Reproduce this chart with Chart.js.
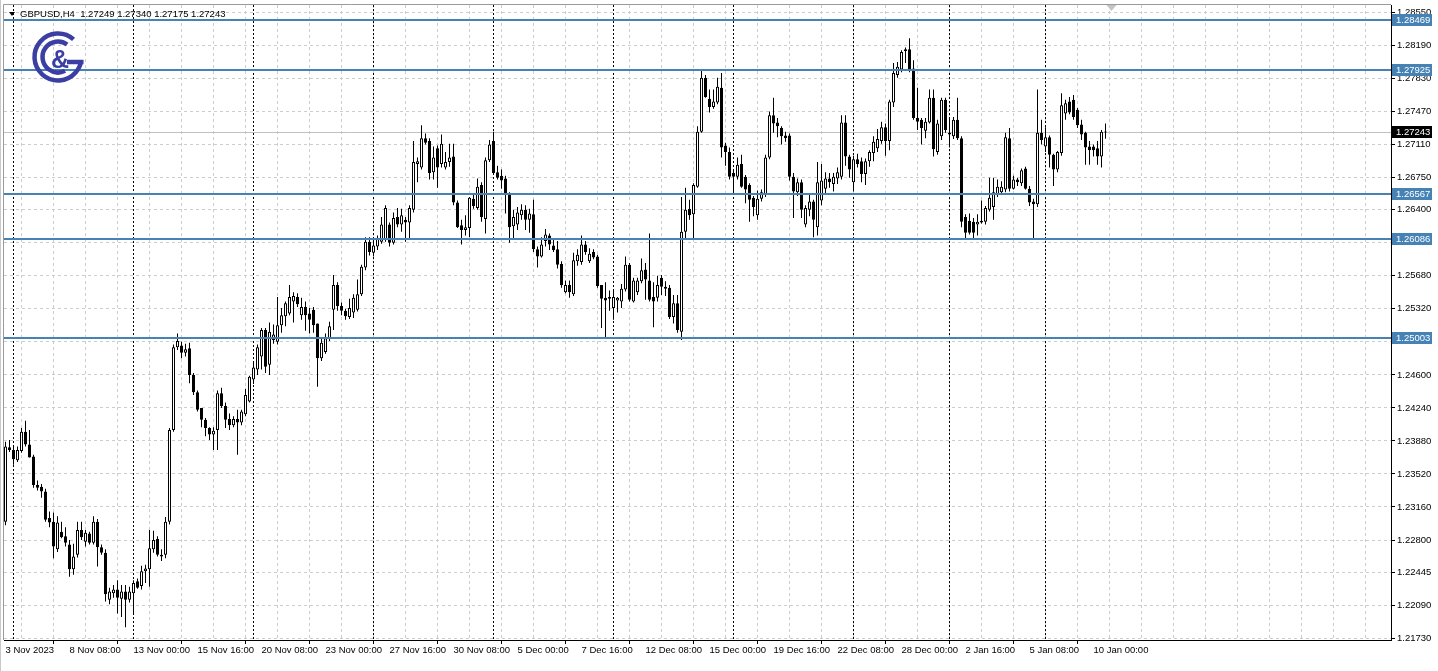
<!DOCTYPE html>
<html>
<head>
<meta charset="utf-8">
<title>GBPUSD,H4</title>
<script src="https://cdn.jsdelivr.net/npm/chart.js@4.4.1/dist/chart.umd.min.js"></script>
<style>
    html, body { margin: 0; padding: 0; background: #fff; }
    #wrap { width: 1438px; height: 671px; }
</style>
</head>
<body>
<div id="wrap"><canvas id="priceChart" width="1438" height="671"></canvas></div>
<script>
// H4 bars, 3 Nov 2023 16:00 .. 10 Jan 2024
const opens = [
    1.2300,1.2381,1.2378,1.2367,1.2377,1.2398,1.2384,1.2371,1.2340,1.2338,
    1.2333,1.2304,1.2300,1.2270,1.2289,1.2284,1.2275,1.2248,1.2264,1.2291,
    1.2278,1.2287,1.2277,1.2300,1.2272,1.2266,1.2215,1.2222,1.2226,1.2216,
    1.2224,1.2215,1.2222,1.2235,1.2230,1.2246,1.2248,1.2270,1.2281,1.2264,
    1.2264,1.2300,1.2400,1.2490,1.2492,1.2484,1.2489,1.2460,1.2441,1.2424,
    1.2411,1.2402,1.2395,1.2400,1.2440,1.2426,1.2412,1.2405,1.2412,1.2408,
    1.2417,1.2431,1.2455,1.2466,1.2480,1.2509,1.2471,1.2498,1.2496,1.2514,
    1.2524,1.2527,1.2540,1.2545,1.2525,1.2534,1.2527,1.2531,1.2516,1.2478,
    1.2485,1.2500,1.2531,1.2558,1.2535,1.2530,1.2523,1.2528,1.2531,1.2548,
    1.2577,1.2605,1.2593,1.2600,1.2605,1.2607,1.2624,1.2604,1.2632,1.2624,
    1.2629,1.2626,1.2640,1.2690,1.2686,1.2718,1.2715,1.2681,1.2707,1.2690,
    1.2686,1.2692,1.2698,1.2648,1.2623,1.2618,1.2620,1.2652,1.2642,1.2667,
    1.2630,1.2694,1.2715,1.2681,1.2677,1.2674,1.2656,1.2622,1.2624,1.2634,
    1.2640,1.2629,1.2635,1.2597,1.2589,1.2606,1.2612,1.2601,1.2597,1.2581,
    1.2550,1.2558,1.2548,1.2584,1.2583,1.2602,1.2584,1.2594,1.2589,1.2558,
    1.2544,1.2545,1.2533,1.2541,1.2540,1.2553,1.2580,1.2540,1.2550,1.2562,
    1.2575,1.2563,1.2545,1.2544,1.2566,1.2556,1.2555,1.2523,1.2538,1.2507,
    1.2616,1.2641,1.2635,1.2665,1.2725,1.2784,1.2761,1.2752,1.2757,1.2773,
    1.2710,1.2703,1.2680,1.2676,1.2690,1.2676,1.2667,1.2653,1.2634,1.2652,
    1.2657,1.2697,1.2743,1.2735,1.2729,1.2721,1.2721,1.2676,1.2659,1.2670,
    1.2624,1.2640,1.2649,1.2621,1.2650,1.2663,1.2674,1.2668,1.2674,1.2676,
    1.2735,1.2698,1.2670,1.2695,1.2693,1.2679,1.2693,1.2702,1.2707,1.2715,
    1.2730,1.2715,1.2757,1.2787,1.2793,1.2813,1.2815,1.2794,1.2740,1.2738,
    1.2726,1.2735,1.2762,1.2703,1.2720,1.2760,1.2722,1.2720,1.2738,1.2718,
    1.2632,1.2628,1.2627,1.2624,1.2626,1.2627,1.2640,1.2643,1.2656,1.2659,
    1.2662,1.2718,1.2663,1.2673,1.2669,1.2685,1.2663,1.2649,1.2646,1.2724,
    1.2709,1.2719,1.2700,1.2684,1.2702,1.2745,1.2758,1.2760,1.2749,1.2733,
    1.2724,1.2709,1.2709,1.2707,1.2698,1.27249
];
const highs = [
    1.2387,1.2389,1.2382,1.2382,1.2402,1.2410,1.2400,1.2373,1.2345,1.2341,
    1.2336,1.2311,1.2310,1.2306,1.2300,1.2294,1.2280,1.2276,1.2300,1.2300,
    1.2291,1.2289,1.2306,1.2303,1.2275,1.2270,1.2228,1.2231,1.2236,1.2231,
    1.2231,1.2229,1.2236,1.2238,1.2252,1.2253,1.2291,1.2290,1.2284,1.2270,
    1.2305,1.2402,1.2493,1.2505,1.2496,1.2494,1.2495,1.2462,1.2443,1.2424,
    1.2413,1.2403,1.2403,1.2443,1.2446,1.2430,1.2418,1.2415,1.2422,1.2422,
    1.2445,1.2459,1.2474,1.2493,1.2511,1.2511,1.2517,1.2515,1.2545,1.2533,
    1.2540,1.2558,1.2550,1.2549,1.2544,1.2540,1.2533,1.2534,1.2516,1.2500,
    1.2505,1.2518,1.2569,1.2561,1.2539,1.2532,1.2543,1.2548,1.2564,1.2580,
    1.2610,1.2610,1.2609,1.2612,1.2632,1.2645,1.2626,1.2637,1.2642,1.2641,
    1.2632,1.2645,1.2715,1.2697,1.2732,1.2723,1.2718,1.2709,1.2710,1.2722,
    1.2703,1.2712,1.2712,1.2650,1.2629,1.2634,1.2654,1.2656,1.2674,1.2670,
    1.2697,1.2716,1.2725,1.2688,1.2684,1.2677,1.2659,1.2640,1.2643,1.2646,
    1.2645,1.2641,1.2651,1.2600,1.2610,1.2619,1.2614,1.2607,1.2606,1.2584,
    1.2563,1.2563,1.2593,1.2597,1.2612,1.2606,1.2598,1.2597,1.2591,1.2558,
    1.2561,1.2552,1.2553,1.2545,1.2559,1.2589,1.2582,1.2566,1.2566,1.2587,
    1.2582,1.2614,1.2561,1.2568,1.2569,1.2562,1.2558,1.2547,1.2547,1.2654,
    1.2664,1.2651,1.2669,1.2731,1.2792,1.2787,1.2771,1.2771,1.2784,1.2789,
    1.2713,1.2708,1.2683,1.2697,1.2700,1.2678,1.2669,1.2655,1.2661,1.2662,
    1.2700,1.2747,1.2762,1.2740,1.2731,1.2725,1.2723,1.2680,1.2674,1.2673,
    1.2645,1.2657,1.2651,1.2692,1.2690,1.2681,1.2680,1.2680,1.2686,1.2743,
    1.2743,1.2700,1.2699,1.2701,1.2697,1.2696,1.2705,1.2720,1.2728,1.2736,
    1.2734,1.2760,1.2800,1.2801,1.2814,1.2817,1.2827,1.2803,1.2773,1.2740,
    1.2740,1.2771,1.2771,1.2738,1.2762,1.2762,1.2740,1.2741,1.2762,1.2720,
    1.2635,1.2636,1.2631,1.2635,1.2650,1.2644,1.2675,1.2675,1.2673,1.2671,
    1.2724,1.2729,1.2677,1.2675,1.2685,1.2687,1.2666,1.2652,1.2771,1.2738,
    1.2730,1.2721,1.2701,1.2704,1.2767,1.2760,1.2763,1.2765,1.2751,1.2738,
    1.2725,1.2715,1.2711,1.2715,1.2727,1.27340
];
const lows = [
    1.2296,1.2376,1.2362,1.2365,1.2375,1.2382,1.2370,1.2337,1.2334,1.2326,
    1.2300,1.2294,1.2260,1.2267,1.2282,1.2273,1.2240,1.2242,1.2261,1.2280,
    1.2273,1.2275,1.2275,1.2251,1.2264,1.2213,1.2210,1.2217,1.2200,1.2196,
    1.2185,1.2212,1.2200,1.2227,1.2226,1.2233,1.2229,1.2266,1.2262,1.2257,
    1.2260,1.2297,1.2398,1.2487,1.2478,1.2480,1.2451,1.2438,1.2420,1.2403,
    1.2393,1.2389,1.2378,1.2378,1.2424,1.2402,1.2400,1.2403,1.2373,1.2405,
    1.2415,1.2430,1.2450,1.2460,1.2466,1.2462,1.2460,1.2494,1.2493,1.2506,
    1.2513,1.2525,1.2517,1.2534,1.2520,1.2508,1.2505,1.2506,1.2447,1.2475,
    1.2483,1.2497,1.2509,1.2530,1.2525,1.2520,1.2521,1.2522,1.2529,1.2546,
    1.2574,1.2590,1.2589,1.2596,1.2603,1.2605,1.2600,1.2602,1.2621,1.2616,
    1.2605,1.2607,1.2637,1.2670,1.2684,1.2711,1.2673,1.2673,1.2664,1.2686,
    1.2684,1.2687,1.2645,1.2620,1.2602,1.2612,1.2610,1.2641,1.2640,1.2627,
    1.2614,1.2692,1.2680,1.2673,1.2663,1.2636,1.2604,1.2608,1.2618,1.2629,
    1.2618,1.2615,1.2594,1.2577,1.2588,1.2600,1.2596,1.2594,1.2576,1.2555,
    1.2549,1.2544,1.2546,1.2579,1.2580,1.2591,1.2582,1.2586,1.2555,1.2511,
    1.2500,1.2530,1.2520,1.2528,1.2533,1.2551,1.2540,1.2539,1.2547,1.2560,
    1.2542,1.2540,1.2512,1.2540,1.2547,1.2546,1.2521,1.2516,1.2506,1.2498,
    1.2609,1.2629,1.2609,1.2664,1.2724,1.2762,1.2746,1.2750,1.2755,1.2697,
    1.2688,1.2673,1.2657,1.2673,1.2664,1.2647,1.2627,1.2633,1.2629,1.2649,
    1.2654,1.2695,1.2724,1.2719,1.2711,1.2714,1.2672,1.2631,1.2655,1.2631,
    1.2621,1.2633,1.2610,1.2612,1.2645,1.2658,1.2664,1.2660,1.2668,1.2673,
    1.2688,1.2675,1.2660,1.2686,1.2670,1.2667,1.2687,1.2693,1.2703,1.2712,
    1.2699,1.2705,1.2752,1.2784,1.2790,1.2800,1.2790,1.2738,1.2727,1.2711,
    1.2718,1.2734,1.2698,1.2700,1.2716,1.2724,1.2708,1.2717,1.2716,1.2621,
    1.2609,1.2613,1.2609,1.2612,1.2625,1.2624,1.2638,1.2629,1.2654,1.2656,
    1.2659,1.2660,1.2662,1.2666,1.2666,1.2662,1.2644,1.2609,1.2643,1.2711,
    1.2703,1.2686,1.2666,1.2681,1.2699,1.2738,1.2744,1.2738,1.2729,1.2716,
    1.2689,1.2689,1.2698,1.2689,1.2686,1.27175
];
const closes = [
    1.2382,1.2378,1.2368,1.2378,1.2398,1.2384,1.2370,1.2340,1.2337,1.2333,
    1.2302,1.2299,1.2273,1.2299,1.2283,1.2277,1.2248,1.2262,1.2291,1.2283,
    1.2288,1.2277,1.2300,1.2272,1.2266,1.2221,1.2224,1.2226,1.2217,1.2224,
    1.2215,1.2224,1.2233,1.2228,1.2246,1.2249,1.2271,1.2280,1.2264,1.2262,
    1.2300,1.2400,1.2490,1.2497,1.2484,1.2488,1.2460,1.2441,1.2422,1.2411,
    1.2402,1.2395,1.2399,1.2440,1.2426,1.2411,1.2405,1.2412,1.2408,1.2420,
    1.2438,1.2458,1.2468,1.2490,1.2509,1.2469,1.2507,1.2504,1.2514,1.2525,
    1.2538,1.2545,1.2546,1.2537,1.2534,1.2525,1.2520,1.2514,1.2478,1.2495,
    1.2500,1.2513,1.2558,1.2535,1.2530,1.2524,1.2533,1.2544,1.2548,1.2578,
    1.2605,1.2594,1.2601,1.2609,1.2624,1.2642,1.2604,1.2631,1.2624,1.2634,
    1.2626,1.2642,1.2692,1.2693,1.2718,1.2713,1.2680,1.2697,1.2686,1.2712,
    1.2692,1.2697,1.2648,1.2621,1.2618,1.2621,1.2653,1.2644,1.2665,1.2632,
    1.2694,1.2711,1.2680,1.2675,1.2672,1.2656,1.2621,1.2632,1.2637,1.2640,
    1.2629,1.2636,1.2597,1.2589,1.2602,1.2613,1.2602,1.2596,1.2580,1.2558,
    1.2558,1.2550,1.2585,1.2591,1.2602,1.2594,1.2592,1.2588,1.2557,1.2543,
    1.2541,1.2543,1.2545,1.2544,1.2554,1.2580,1.2542,1.2563,1.2563,1.2574,
    1.2564,1.2542,1.2540,1.2558,1.2556,1.2554,1.2523,1.2538,1.2509,1.2616,
    1.2640,1.2634,1.2667,1.2725,1.2784,1.2763,1.2752,1.2758,1.2774,1.2708,
    1.2703,1.2676,1.2676,1.2689,1.2665,1.2662,1.2651,1.2643,1.2652,1.2659,
    1.2697,1.2743,1.2734,1.2731,1.2720,1.2718,1.2676,1.2660,1.2670,1.2640,
    1.2642,1.2649,1.2629,1.2670,1.2672,1.2674,1.2670,1.2676,1.2681,1.2735,
    1.2698,1.2684,1.2695,1.2690,1.2679,1.2693,1.2703,1.2714,1.2717,1.2730,
    1.2715,1.2758,1.2789,1.2796,1.2812,1.2815,1.2793,1.2740,1.2736,1.2729,
    1.2736,1.2762,1.2706,1.2734,1.2760,1.2727,1.2724,1.2738,1.2718,1.2627,
    1.2615,1.2615,1.2615,1.2627,1.2628,1.2642,1.2653,1.2659,1.2665,1.2665,
    1.2719,1.2663,1.2673,1.2670,1.2683,1.2663,1.2648,1.2646,1.2724,1.2716,
    1.2719,1.2700,1.2684,1.2703,1.2754,1.2756,1.2746,1.2741,1.2732,1.2722,
    1.2708,1.2705,1.2705,1.2698,1.2725,1.27243
];

// time axis labels and the bar they sit on
const timeLabels = ['3 Nov 2023', '8 Nov 08:00', '13 Nov 00:00', '15 Nov 16:00', '20 Nov 08:00', '23 Nov 00:00',
    '27 Nov 16:00', '30 Nov 08:00', '5 Dec 00:00', '7 Dec 16:00', '12 Dec 08:00', '15 Dec 00:00',
    '19 Dec 16:00', '22 Dec 08:00', '28 Dec 00:00', '2 Jan 16:00', '5 Jan 08:00', '10 Jan 00:00'];
const timeLabelBars = [0, 16, 32, 48, 64, 80, 96, 112, 128, 144, 160, 176, 192, 208, 224, 240, 256, 272];
// first bar of each week (period separators)
const weekStartBars = [2, 32, 62, 92, 122, 152, 182, 212, 236, 260];

const priceTicks = [1.28550, 1.28190, 1.27830, 1.27470, 1.27110, 1.26750, 1.26400, 1.26040, 1.25680, 1.25320,
    1.24960, 1.24600, 1.24240, 1.23880, 1.23520, 1.23160, 1.22800, 1.22445, 1.22090, 1.21730];
const levels = [1.28469, 1.27925, 1.26567, 1.26086, 1.25003];

const symbol = 'GBPUSD,H4';
const FONT = "'Liberation Sans', Arial, sans-serif";
const LEVEL_COLOR = '#4682b4';

const last = closes.length - 1;
const barIdx = closes.map((_, i) => i);

function drawLogo(ctx) {
    const cx = 58, cy = 57;
    ctx.save();
    ctx.strokeStyle = '#3b3fa4';
    ctx.fillStyle = '#3b3fa4';
    ctx.lineWidth = 4.5;
    ctx.lineCap = 'butt';
    // outer "G"
    ctx.beginPath();
    ctx.arc(cx, cy, 23.5, -Math.PI * 0.27, 0.16, true);
    ctx.stroke();
    ctx.beginPath();
    ctx.moveTo(cx + 25.5, cy + 5);
    ctx.lineTo(cx + 9, cy + 5);
    ctx.stroke();
    // inner "C"
    ctx.beginPath();
    ctx.arc(cx, cy, 15.5, -Math.PI * 0.3, Math.PI * 0.35, true);
    ctx.stroke();
    ctx.font = 'bold 25px ' + FONT;
    ctx.textAlign = 'center';
    ctx.textBaseline = 'middle';
    ctx.fillText('&', cx + 2, cy + 4);
    ctx.restore();
}

const overlayPlugin = {
    id: 'overlay',
    beforeDatasetsDraw(chart) {
        const { ctx, chartArea: a, scales: { x, y } } = chart;
        ctx.save();
        ctx.beginPath();
        ctx.rect(a.left, a.top, a.right - a.left, a.bottom - a.top);
        ctx.clip();

        // week separators
        ctx.strokeStyle = '#000';
        ctx.lineWidth = 1;
        ctx.setLineDash([2, 2]);
        weekStartBars.forEach(b => {
            const px = Math.floor(x.getPixelForValue(b)) + 0.5;
            ctx.beginPath();
            ctx.moveTo(px, a.top);
            ctx.lineTo(px, a.bottom);
            ctx.stroke();
        });
        ctx.setLineDash([]);

        // current price line
        const py = Math.round(y.getPixelForValue(closes[last])) + 0.5;
        ctx.strokeStyle = '#c0c0c0';
        ctx.beginPath();
        ctx.moveTo(a.left, py);
        ctx.lineTo(a.right, py);
        ctx.stroke();
        ctx.restore();
    },
    afterDatasetsDraw(chart) {
        const { ctx, chartArea: a, scales: { y } } = chart;
        ctx.save();
        ctx.fillStyle = LEVEL_COLOR;
        levels.forEach(v => {
            const py = Math.round(y.getPixelForValue(v));
            ctx.fillRect(a.left, py - 1, a.right - a.left, 2);
        });
        ctx.restore();
    },
    afterDraw(chart) {
        const { ctx, chartArea: a, scales: { x, y } } = chart;
        ctx.save();

        // frame
        ctx.strokeStyle = '#9a9a9a';
        ctx.lineWidth = 1;
        ctx.beginPath();
        ctx.moveTo(a.left - 0.5, a.bottom);
        ctx.lineTo(a.left - 0.5, a.top - 0.5);
        ctx.lineTo(a.right, a.top - 0.5);
        ctx.stroke();
        ctx.strokeStyle = '#c8c8c8';
        ctx.beginPath();
        ctx.moveTo(0.5, 0);
        ctx.lineTo(0.5, 671);
        ctx.stroke();

        // price boxes on the right axis
        ctx.font = '9.5px ' + FONT;
        ctx.textBaseline = 'middle';
        ctx.textAlign = 'left';
        const box = (v, bg) => {
            const py = Math.round(y.getPixelForValue(v));
            ctx.fillStyle = bg;
            ctx.fillRect(a.right + 1, py - 6, 40, 12);
            ctx.fillStyle = '#fff';
            ctx.fillText(v.toFixed(5), a.right + 5, py + 0.5);
        };
        levels.forEach(v => box(v, LEVEL_COLOR));
        box(closes[last], '#000');

        // chart shift marker
        const sx = x.getPixelForValue(last + 1.5);
        ctx.fillStyle = '#c4c4c4';
        ctx.beginPath();
        ctx.moveTo(sx - 5, a.top);
        ctx.lineTo(sx + 5, a.top);
        ctx.lineTo(sx, a.top + 6);
        ctx.closePath();
        ctx.fill();

        // header
        ctx.fillStyle = '#000';
        ctx.beginPath();
        ctx.moveTo(a.left + 5, 12);
        ctx.lineTo(a.left + 11, 12);
        ctx.lineTo(a.left + 8, 16);
        ctx.closePath();
        ctx.fill();
        ctx.font = '9.5px ' + FONT;
        const ohlc = [opens[last], highs[last], lows[last], closes[last]].map(v => v.toFixed(5)).join(' ');
        ctx.fillText(symbol + '  ' + ohlc, a.left + 16, 14.5);

        drawLogo(ctx);
        ctx.restore();
    }
};

const ctx = document.getElementById('priceChart').getContext('2d');

new Chart(ctx, {
    type: 'bar',
    data: {
        datasets: [{
            label: 'Body',
            data: barIdx.map(i => ({ x: i, y: [opens[i], closes[i]] })),
            backgroundColor: barIdx.map(i => closes[i] >= opens[i] ? '#ffffff' : '#000000'),
            borderColor: '#000',
            borderWidth: 1,
            borderSkipped: false,
            barThickness: 3,
            minBarLength: 1,
            inflateAmount: 0,
            grouped: false,
            order: 1
        }, {
            label: 'Wick',
            data: barIdx.map(i => ({ x: i, y: [lows[i], highs[i]] })),
            backgroundColor: '#000',
            borderWidth: 0,
            barThickness: 1,
            inflateAmount: 0,
            grouped: false,
            order: 2
        }]
    },
    options: {
        responsive: false,
        animation: false,
        events: [],
        layout: { padding: { left: 4, top: 5, right: 0, bottom: 0 } },
        plugins: {
            legend: { display: false },
            tooltip: { enabled: false }
        },
        scales: {
            x: {
                type: 'linear',
                min: -0.375,
                max: 346.375,
                offset: false,
                afterBuildTicks: scale => {
                    const t = [];
                    for (let v = 0; v <= scale.max; v += 8) t.push({ value: v });
                    scale.ticks = t;
                },
                afterFit: scale => {
                    scale.height = 31;
                    scale.paddingLeft = 0;
                    scale.paddingRight = 0;
                },
                grid: {
                    color: '#cdcdcd',
                    drawTicks: true,
                    tickLength: 4,
                    tickColor: c => (c.tick && timeLabelBars.includes(c.tick.value)) ? '#000' : 'rgba(0,0,0,0)'
                },
                border: { display: true, color: '#000', dash: [3, 3] },
                ticks: {
                    autoSkip: false,
                    maxRotation: 0,
                    align: 'start',
                    labelOffset: 0,
                    padding: 1,
                    color: '#000',
                    font: { family: FONT, size: 9.5 },
                    callback: value => {
                        const k = timeLabelBars.indexOf(value);
                        return k >= 0 ? timeLabels[k] : '';
                    }
                }
            },
            y: {
                type: 'linear',
                position: 'right',
                min: 1.2171,
                max: 1.28632,
                afterBuildTicks: scale => {
                    scale.ticks = priceTicks.map(v => ({ value: v }));
                },
                afterFit: scale => {
                    scale.width = 47;
                    scale.paddingTop = 0;
                    scale.paddingBottom = 0;
                },
                grid: {
                    color: '#cdcdcd',
                    drawTicks: true,
                    tickLength: 4,
                    tickColor: '#000'
                },
                border: { display: true, color: '#000', dash: [3, 3] },
                ticks: {
                    padding: 2,
                    color: '#000',
                    font: { family: FONT, size: 9.5 },
                    callback: value => Number(value).toFixed(5)
                }
            }
        }
    },
    plugins: [overlayPlugin]
});
</script>
</body>
</html>
